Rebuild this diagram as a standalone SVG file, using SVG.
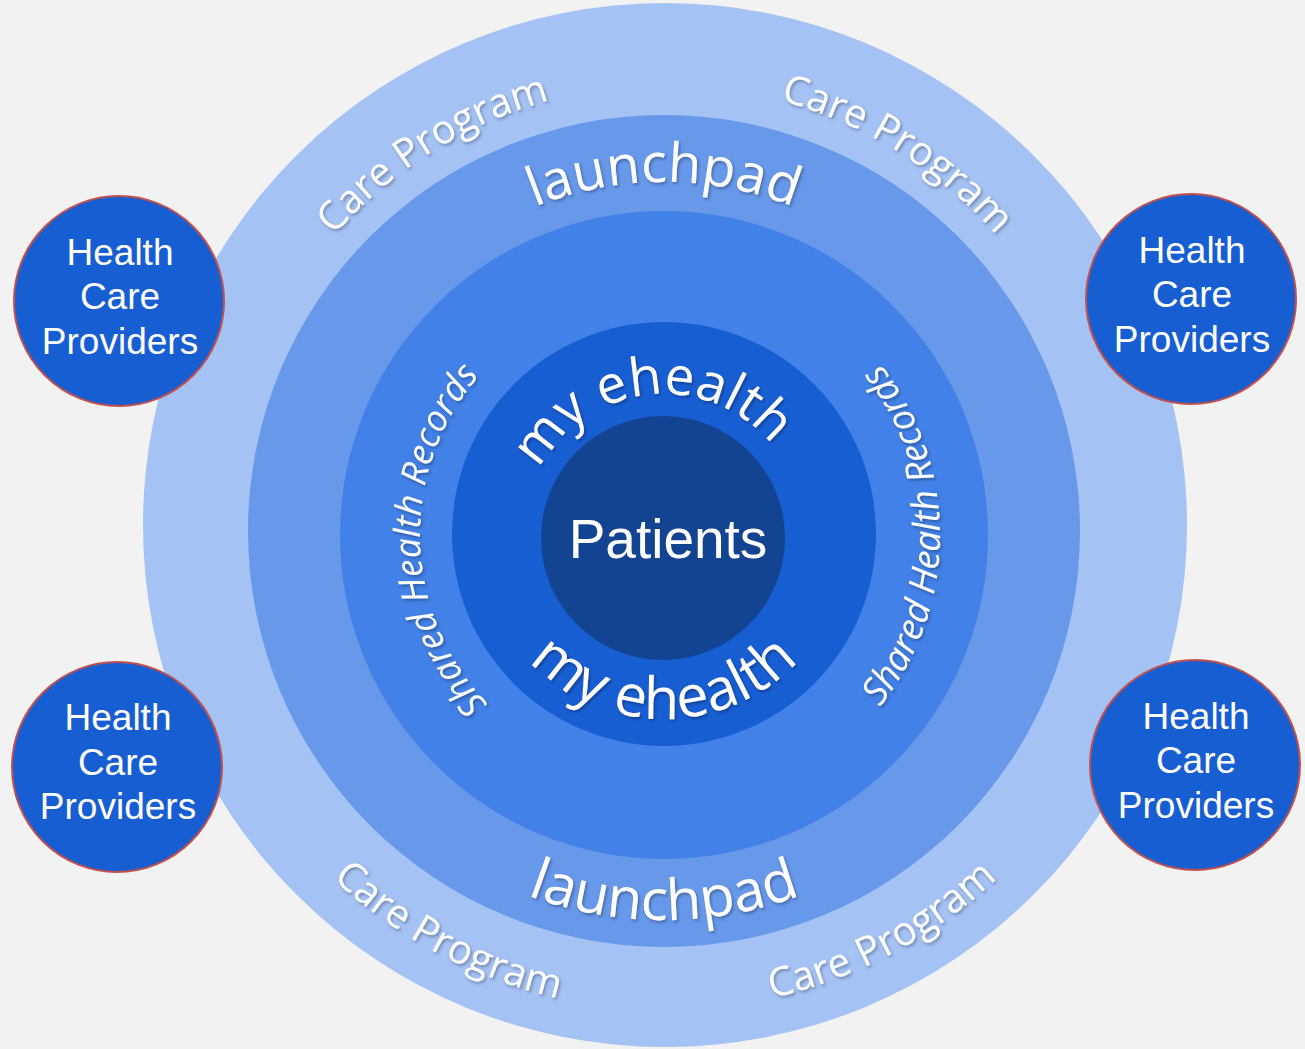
<svg xmlns="http://www.w3.org/2000/svg" width="1305" height="1049" viewBox="0 0 1305 1049">
<defs>
<style>
.arc{font-family:"Open Sans","Noto Sans","DejaVu Sans",sans-serif;fill:#FFFFFF;filter:url(#sh)}
.hcp{font-family:"Liberation Sans",Arial,sans-serif;font-size:37px;fill:#FFFFFF;text-anchor:middle}
.hcpc{fill:#185ED3;stroke:#C0504D;stroke-width:2}
</style>
<filter id="sh" x="-20%" y="-20%" width="140%" height="140%">
<feDropShadow dx="1.5" dy="2" stdDeviation="1.5" flood-color="#000000" flood-opacity="0.3"/>
</filter>
<path id="pLaunchTop" d="M320.30,470.40 A349,349 0 0 1 1007.70,470.40"/>
<path id="pLaunchBot" d="M280.91,598.55 A389,389 0 0 0 1047.09,598.55"/>
<path id="pCareTL" d="M225.27,540.36 A440,440 0 0 1 871.57,136.50"/>
<path id="pCareTR" d="M458.43,136.50 A440,440 0 0 1 1104.73,540.36"/>
<path id="pCareBL" d="M180.30,541.93 A485,485 0 0 0 922.01,936.30"/>
<path id="pCareBR" d="M407.99,936.30 A485,485 0 0 0 1149.70,541.93"/>
<path id="pShrL" d="M627.93,776.32 A244,244 0 0 1 615.35,295.90"/>
<path id="pShrR" d="M711.93,806.81 A276,276 0 0 0 711.93,263.19"/>
<path id="pMyTop" d="M524.34,524.23 A140,140 0 0 1 798.58,495.41"/>
<path id="pMyBot" d="M481.81,566.13 A185,185 0 0 0 846.19,566.13"/>
</defs>
<rect x="0" y="0" width="1305" height="1049" fill="#F2F2F2"/>

<g id="ring-care-program">
<circle cx="665" cy="525" r="522" fill="#A4C2F4"/>
<text class="arc" font-size="40"><textPath href="#pCareTL" startOffset="50%" text-anchor="middle">Care Program</textPath></text>
<text class="arc" font-size="40"><textPath href="#pCareTR" startOffset="50%" text-anchor="middle">Care Program</textPath></text>
<text class="arc" font-size="40"><textPath href="#pCareBL" startOffset="50%" text-anchor="middle">Care Program</textPath></text>
<text class="arc" font-size="40"><textPath href="#pCareBR" startOffset="50%" text-anchor="middle">Care Program</textPath></text>
</g>

<g id="ring-launchpad">
<circle cx="664" cy="531" r="416" fill="#6798EA"/>
<text class="arc" font-size="54"><textPath href="#pLaunchTop" startOffset="50%" text-anchor="middle">launchpad</textPath></text>
<text class="arc" font-size="57"><textPath href="#pLaunchBot" startOffset="50%" text-anchor="middle">launchpad</textPath></text>
</g>

<g id="ring-shared-health-records">
<circle cx="664" cy="535" r="324" fill="#4281E7"/>
<text class="arc" font-size="36" font-style="italic"><textPath href="#pShrL" startOffset="50%" text-anchor="middle">Shared Health Records</textPath></text>
<text class="arc" font-size="37" font-style="italic"><textPath href="#pShrR" startOffset="50%" text-anchor="middle">Shared Health Records</textPath></text>
</g>

<g id="ring-my-ehealth">
<circle cx="664" cy="534" r="212" fill="#185ED3"/>
<text class="arc" font-size="53"><textPath href="#pMyTop" startOffset="50%" text-anchor="middle">my ehealth</textPath></text>
<text class="arc" font-size="58"><textPath href="#pMyBot" startOffset="50%" text-anchor="middle">my ehealth</textPath></text>
</g>

<g id="patients">
<circle cx="663" cy="538" r="122" fill="#134492"/>
<text x="668" y="558" font-family="Liberation Sans, Arial, sans-serif" font-size="55" fill="#FFFFFF" text-anchor="middle">Patients</text>
</g>

<g id="hcp-top-left">
<circle class="hcpc" cx="119" cy="301" r="105"/>
<text class="hcp" x="120" y="265">Health</text>
<text class="hcp" x="120" y="309">Care</text>
<text class="hcp" x="120" y="354">Providers</text>
</g>
<g id="hcp-top-right">
<circle class="hcpc" cx="1191" cy="299" r="105"/>
<text class="hcp" x="1192" y="263">Health</text>
<text class="hcp" x="1192" y="307">Care</text>
<text class="hcp" x="1192" y="352">Providers</text>
</g>
<g id="hcp-bottom-left">
<circle class="hcpc" cx="117" cy="767" r="105"/>
<text class="hcp" x="118" y="730">Health</text>
<text class="hcp" x="118" y="775">Care</text>
<text class="hcp" x="118" y="819">Providers</text>
</g>
<g id="hcp-bottom-right">
<circle class="hcpc" cx="1195" cy="765" r="105"/>
<text class="hcp" x="1196" y="729">Health</text>
<text class="hcp" x="1196" y="773">Care</text>
<text class="hcp" x="1196" y="818">Providers</text>
</g>
<g id="connectors"/>
</svg>
